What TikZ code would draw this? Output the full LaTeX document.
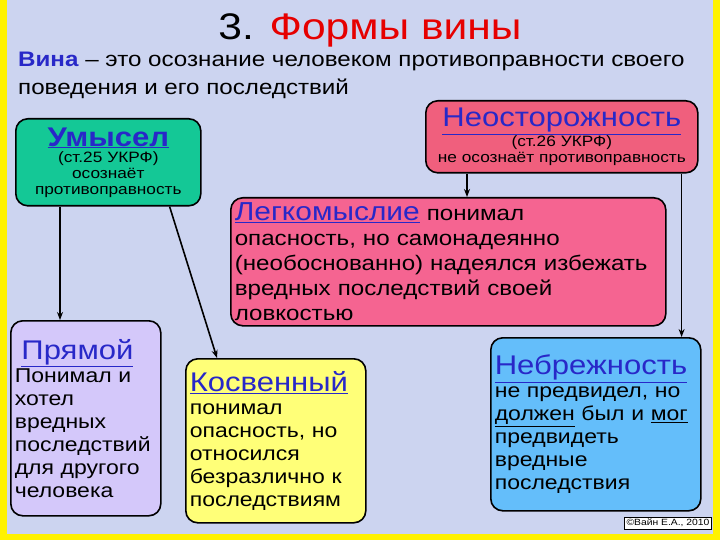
\documentclass[tikz,border=0pt]{standalone}
\usepackage{fontspec}
\setmainfont[FakeStretch=1.15]{Liberation Sans}
\usetikzlibrary{arrows.meta}
\definecolor{bg}{RGB}{204,212,240}
\definecolor{ttl}{RGB}{40,40,200}
\definecolor{gr}{RGB}{20,200,150}
\definecolor{pk}{RGB}{240,95,125}
\definecolor{pk2}{RGB}{245,100,145}
\definecolor{lav}{RGB}{212,200,250}
\definecolor{yl}{RGB}{255,255,120}
\definecolor{lb}{RGB}{100,190,250}
\definecolor{rd}{RGB}{230,0,0}
\tikzset{box/.style={draw=black,line width=1.6pt,rounded corners=12pt,anchor=north west,inner sep=4pt},
arr/.style={-{Stealth[length=8pt,width=6pt]},line width=1.6pt}}
\begin{document}
\begin{tikzpicture}[x=1pt,y=-1pt]
\fill[yellow] (0,0) rectangle (720,540);
\fill[bg] (7,0) rectangle (713,534);
\useasboundingbox (0,0) rectangle (720,540);
\node[font=\fontsize{37}{40}\selectfont] (t) at (370,30) {3. \textcolor{rd}{Формы вины}};
\node[anchor=north west,align=left,inner sep=0pt,font=\fontsize{21}{28}\selectfont] (d) at (18,52) {\textcolor{ttl}{\textbf{Вина}} – это осознание человеком противоправности своего\\поведения и его последствий};
\node[box,fill=gr,minimum width=185,minimum height=87,align=center,text width=177,font=\fontsize{15}{16}\selectfont] (u) at (15,118)
 {{\fontsize{27}{28}\selectfont\textbf{\textcolor{ttl}{\underline{Умысел}}}}\\(ст.25 УКРФ)\\осознаёт\\противоправность};
\node[box,fill=pk,minimum width=272,minimum height=72,align=center,text width=264,font=\fontsize{15}{16}\selectfont] (n) at (425,100)
 {{\fontsize{27}{28}\selectfont\textcolor{ttl}{\underline{Неосторожность}}}\\(ст.26 УКРФ)\\не осознаёт противоправность};
\node[box,fill=pk2,minimum width=435,minimum height=128,align=left,text width=427,font=\fontsize{21}{25}\selectfont] (l) at (230,197)
 {{\fontsize{26}{26}\selectfont\textcolor{ttl}{\underline{Легкомыслие}}} понимал\\опасность, но самонадеянно\\(необоснованно) надеялся избежать\\вредных последствий своей\\ловкостью};
\node[box,fill=lav,minimum width=150,minimum height=195,align=left,text width=142,inner sep=3pt,font=\fontsize{20}{23}\selectfont] (p) at (10,320)
 {{\fontsize{27}{30}\selectfont\textcolor{ttl}{\ \underline{Прямой}}}\\Понимал и\\хотел\\вредных\\последствий\\для другого\\человека};
\node[box,fill=yl,minimum width=180,minimum height=164,align=left,text width=172,font=\fontsize{20}{23}\selectfont] (k) at (185,358)
 {{\fontsize{27}{30}\selectfont\textcolor{ttl}{\underline{Косвенный}}}\\понимал\\опасность, но\\относился\\безразлично к\\последствиям};
\node[box,fill=lb,minimum width=210,minimum height=173,align=left,text width=202,font=\fontsize{20}{23}\selectfont] (b) at (490,337)
 {{\fontsize{27}{30}\selectfont\textcolor{ttl}{\underline{Небрежность}}}\\не предвидел, но\\\underline{должен} был и \underline{мог}\\предвидеть\\вредные\\последствия};
\node[draw,fill=white,inner sep=2pt,font=\fontsize{9}{10}\selectfont\rmfamily] (c) at (668,523) {©Вайн Е.А., 2010};
\draw[arr] (u.south west)++(45,0) coordinate (u1) -- (u1 |- p.north);
\draw[arr] ([xshift=-32pt]u.south east) -- ([xshift=32pt]k.north west);
\draw[arr] (n.south west)++(42,0) coordinate (n1) -- (n1 |- l.north);
\draw[arr] (n.south east)++(-17,0) coordinate (n2) -- (n2 |- b.north);
\end{tikzpicture}
\end{document}
